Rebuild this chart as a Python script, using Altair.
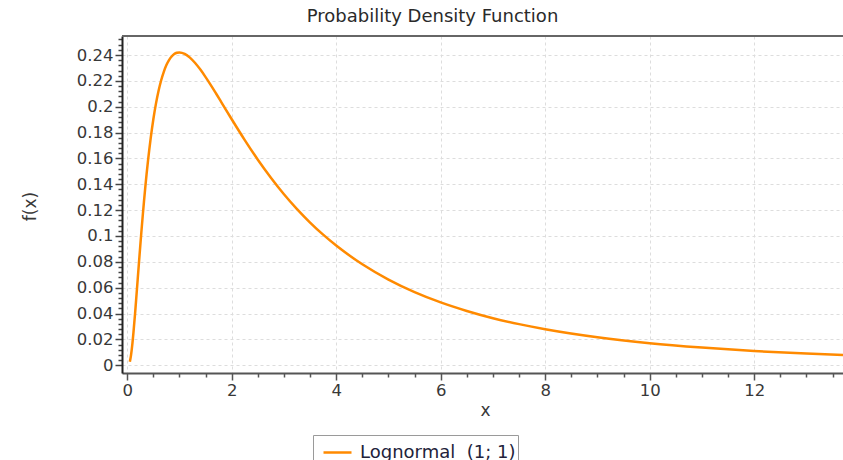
import altair as alt
import pandas as pd

# Values (Lognormal (1; 1) density)
x_vals = [0.05, 0.07, 0.1, 0.12, 0.15, 0.17, 0.2, 0.22, 0.25, 0.27, 0.3, 0.32, 0.35, 0.37,
          0.4, 0.42, 0.45, 0.5, 0.55, 0.6, 0.65, 0.7, 0.75, 0.8, 0.85, 0.9, 0.95, 1.0,
          1.1, 1.2, 1.3, 1.4, 1.5, 1.6, 1.7, 1.8, 2.0, 2.25, 2.5, 2.75, 3.0, 3.25, 3.5,
          3.75, 4.0, 4.5, 5.0, 5.5, 6.0, 6.5, 7.0, 7.5, 8.0, 9.0, 10.0, 11.0, 12.0,
          13.0, 13.7]
y_vals = [0.0027, 0.0071, 0.0171, 0.0256, 0.0400, 0.0503, 0.0663, 0.0769, 0.0926, 0.1027,
          0.1172, 0.1264, 0.1395, 0.1476, 0.1590, 0.1661, 0.1759, 0.1903, 0.2024, 0.2124,
          0.2205, 0.2270, 0.2322, 0.2360, 0.2388, 0.2407, 0.2417, 0.2420, 0.2409, 0.2380,
          0.2338, 0.2287, 0.2229, 0.2167, 0.2102, 0.2036, 0.1903, 0.1742, 0.1590, 0.1451,
          0.1323, 0.1208, 0.1104, 0.1010, 0.0926, 0.0781, 0.0663, 0.0566, 0.0486, 0.0420,
          0.0364, 0.0318, 0.0279, 0.0217, 0.0171, 0.0137, 0.0110, 0.0090, 0.0079]
series_name = "Lognormal\u00a0 (1; 1)"

x_ticks = [i * 0.5 for i in range(0, 28)]
y_ticks = [round(i * 0.004, 3) for i in range(0, 64)]

df = pd.DataFrame({"x": x_vals, "y": y_vals, "series": [series_name] * len(x_vals)})

W, H = 721, 337
FONT = "DejaVu Sans"

x_major = "datum.value % 2 == 0"
y_major = "abs(datum.value*50 - round(datum.value*50)) < 0.001"

x_axis = alt.Axis(
    values=x_ticks,
    labelExpr=f"{x_major} ? format(datum.value, 'd') : ''",
    tickSize={"condition": {"test": x_major, "value": 7}, "value": 4},
    gridOpacity={"condition": {"test": x_major, "value": 1}, "value": 0},
    gridColor="#dddddd", gridDash=[3, 3], gridWidth=1,
    domainColor="#555555", domainWidth=2, tickColor="#555555", tickWidth=1.5,
    labelFont=FONT, labelFontSize=16.5, labelColor="#383838", labelPadding=2,
    labelOverlap=False, labelFlush=False,
    title="x", titleFont=FONT, titleFontSize=17, titleFontWeight="normal",
    titleColor="#383838", titleX=363, titleY=37, titleBaseline="middle", titleAlign="center",
)
y_axis = alt.Axis(
    values=y_ticks,
    labelExpr=f"{y_major} ? format(datum.value, '~g') : ''",
    tickSize={"condition": {"test": y_major, "value": 7}, "value": 4},
    gridOpacity={"condition": {"test": y_major, "value": 1}, "value": 0},
    gridColor="#dddddd", gridDash=[3, 3], gridWidth=1,
    domainColor="#222222", domainWidth=2, tickColor="#444444", tickWidth=1.5,
    labelFont=FONT, labelFontSize=16.5, labelColor="#383838", labelPadding=2,
    labelOverlap=False, labelFlush=False,
    title="f(x)", titleFont=FONT, titleFontSize=17, titleFontWeight="normal",
    titleColor="#383838", titleX=-92, titleY=170, titleAngle=270,
    titleBaseline="middle", titleAlign="center",
)

line = alt.Chart(df).mark_line(strokeWidth=2.5, clip=True, interpolate="monotone").encode(
    x=alt.X("x:Q", scale=alt.Scale(domain=[-0.1, 13.7], nice=False, zero=False), axis=x_axis),
    y=alt.Y("y:Q", scale=alt.Scale(domain=[-0.006, 0.2547], nice=False, zero=False), axis=y_axis),
    color=alt.Color(
        "series:N",
        scale=alt.Scale(range=["#FF8A00"]),
        legend=alt.Legend(
            title=None, orient="none", legendX=191, legendY=399,
            symbolType="stroke", symbolSize=784, symbolStrokeWidth=2.5, symbolOffset=7,
            labelOffset=7,
            labelFont=FONT, labelFontSize=18, labelColor="#22223a", labelLimit=400,
            strokeColor="#9a9a9a", padding=2, fillColor="white",
        ),
    ),
)

top_border = alt.Chart(df).mark_rule(color="#666666", strokeWidth=2).encode(
    x=alt.value(0), x2=alt.value(W), y=alt.value(0)
)

chart = alt.layer(line, top_border).properties(
    width=W, height=H,
    title=alt.TitleParams(
        "Probability Density Function", font=FONT, fontSize=18, fontWeight="normal",
        color="#2a2a2a", anchor="middle", dx=-50, offset=5,
    ),
    autosize=alt.AutoSizeParams(type="none"),
    padding={"left": 122, "top": 36, "right": 0, "bottom": 87},
).configure_view(stroke=None).configure(background="white")

chart.save("out.html", embed_options={"renderer": "svg", "actions": False})
